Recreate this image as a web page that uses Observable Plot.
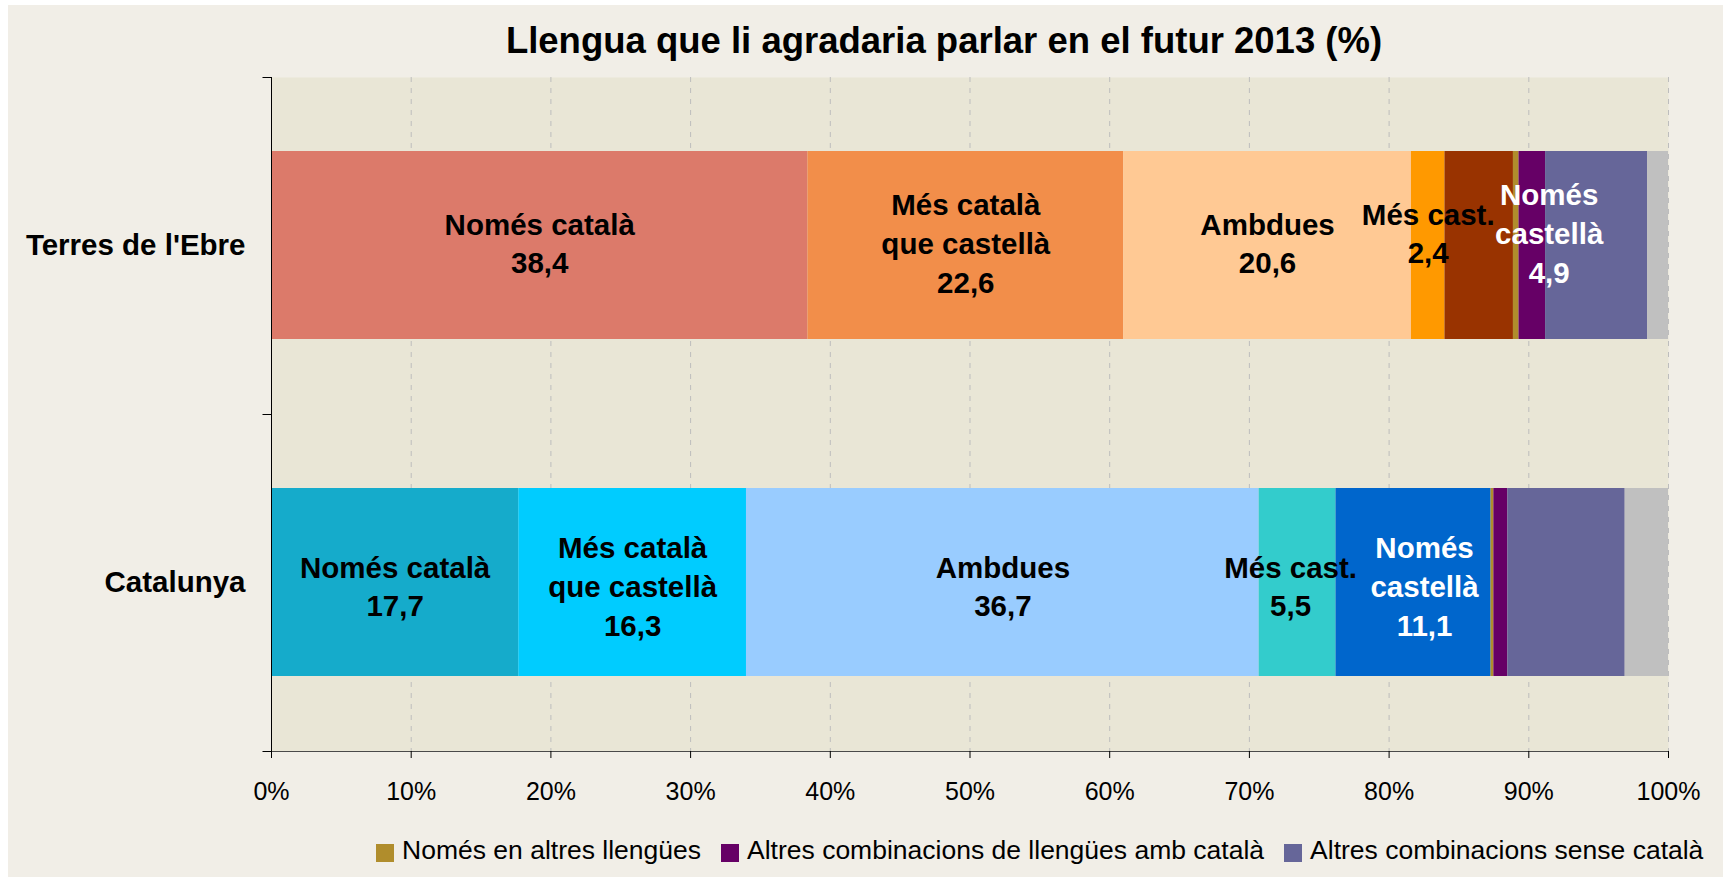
<!DOCTYPE html>
<html><head><meta charset="utf-8">
<script src="https://cdn.jsdelivr.net/npm/d3@7"></script>
<script src="https://cdn.jsdelivr.net/npm/@observablehq/plot@0.6"></script>
<style>
html,body{margin:0;padding:0;background:#fff;}
#chart{position:absolute;left:8px;top:5px;width:1715px;height:872px;background:#f1eee7;font-family:"Liberation Sans",Arial,sans-serif;color:#000;overflow:hidden;}
#plot{position:absolute;left:0;top:0;}
#title{position:absolute;top:18px;left:936px;transform:translateX(-50%);white-space:nowrap;font-size:36.5px;font-weight:bold;line-height:1;}
#legend{position:absolute;top:832px;left:368px;display:flex;align-items:flex-start;font-size:26.5px;line-height:1;white-space:nowrap;}
.item{display:flex;align-items:flex-start;margin-right:20px;}
.sw{width:18px;height:18px;margin-top:7px;margin-right:8px;}
</style></head>
<body><div id="chart"><div id="plot"></div><div id="title"></div><div id="legend"></div></div>
<script>
const title = "Llengua que li agradaria parlar en el futur 2013 (%)";
const regions = ["Terres de l'Ebre", "Catalunya"];
const categories = [
  "Només català", "Més català que castellà", "Ambdues", "Més castellà que català",
  "Només castellà", "Només en altres llengües", "Altres combinacions de llengües amb català",
  "Altres combinacions sense català", "NS/NC"
];
const terresValues = [38.4, 22.6, 20.6, 2.4, 4.9, 0.4, 1.9, 7.3, 1.5];
const catalunyaValues = [17.7, 16.3, 36.7, 5.5, 11.1, 0.2, 1.0, 8.4, 3.1];
const terresColors = ["#dc7a6a", "#f28e4a", "#ffc994", "#ff9900", "#993300", "#b08d2c", "#660066", "#666699", "#c0c0c0"];
const catalunyaColors = ["#15abcb", "#00ccff", "#99ccff", "#33cccc", "#0066cc", "#b08d2c", "#660066", "#666699", "#c0c0c0"];
const segmentLabels = ["Només català", "Més català\nque castellà", "Ambdues", "Més cast.", "Només\ncastellà", "", "", "", ""];
const labelColors = ["#000", "#000", "#000", "#000", "#fff", "#000", "#000", "#000", "#000"];
const xTicks = [0, 10, 20, 30, 40, 50, 60, 70, 80, 90, 100];
const legendLabels = ["Només en altres llengües", "Altres combinacions de llengües amb català", "Altres combinacions sense català"];
const legendColors = ["#b08d2c", "#660066", "#666699"];

const seriesValues = [terresValues, catalunyaValues];
const seriesColors = [terresColors, catalunyaColors];
const fmt = v => v.toFixed(1).replace(".", ",");

const rows = [];
regions.forEach((region, r) => {
  categories.forEach((category, i) => {
    const value = seriesValues[r][i];
    rows.push({
      region, category, value,
      color: seriesColors[r][i],
      label: segmentLabels[i] ? segmentLabels[i] + "\n" + fmt(value) : null,
      textColor: labelColors[i]
    });
  });
});

// label placement tweaks (styling only)
const regionShift = {"Terres de l'Ebre": -4, "Catalunya": 2};
const nudges = [
  {region: "Terres de l'Ebre", category: "Més castellà que català", dx: 0, dy: -10},
  {region: "Terres de l'Ebre", category: "Només castellà", dx: 70, dy: -10},
  {region: "Catalunya", category: "Més castellà que català", dx: -7, dy: 0},
  {region: "Catalunya", category: "Només castellà", dx: 11, dy: 0}
];
function offsetOf(d) {
  const n = nudges.find(n => n.region === d.region && n.category === d.category);
  return [n ? n.dx : 0, (n ? n.dy : 0) + regionShift[d.region]];
}
const offsetKeys = Array.from(new Set(rows.filter(d => d.label).map(d => offsetOf(d).join(","))));

const labelStyle = {fontSize: 29.5, fontWeight: "bold", lineHeight: 1.31, fill: "textColor"};

function axisLines(index, scales, values, dims) {
  const {width, height, marginTop, marginBottom, marginLeft, marginRight} = dims;
  const top = marginTop, bottom = height - marginBottom;
  const g = d3.create("svg:g");
  g.append("line").attr("x1", marginLeft).attr("x2", width - marginRight)
    .attr("y1", bottom + 0.5).attr("y2", bottom + 0.5).attr("stroke", "#4a4a4a");
  const x0 = Math.round(scales.x(0)) + 0.5;
  g.append("line").attr("x1", x0).attr("x2", x0).attr("y1", top).attr("y2", bottom + 1).attr("stroke", "#000");
  const n = regions.length;
  for (let k = 0; k <= n; k++) {
    const y = Math.round(top + k * (bottom - top) / n) + 0.5;
    g.append("line").attr("x1", x0 - 9).attr("x2", x0).attr("y1", y).attr("y2", y).attr("stroke", "#000");
  }
  return g.node();
}

const marks = [
  Plot.frame({fill: "#e9e6d6"}),
  Plot.ruleX(xTicks.filter(d => d > 0), {x: d => d, stroke: "#bdbdbd", strokeDasharray: "5,6"}),
  Plot.barX(rows, Plot.stackX({x: "value", y: "region", fill: "color", order: null})),
  axisLines,
  ...offsetKeys.map(k => {
    const [dx, dy] = k.split(",").map(Number);
    return Plot.text(rows, Plot.stackX({x: "value", y: "region", order: null,
      text: d => (d.label && offsetOf(d).join(",") === k) ? d.label : null,
      dx, dy, ...labelStyle}));
  }),
  Plot.text(regions, {y: d => d, text: d => d, frameAnchor: "left", textAnchor: "end", dx: -26,
    fontSize: 29.5, fontWeight: "bold", fill: "#000"}),
  Plot.axisX({ticks: xTicks, tickFormat: d => d + "%", tickSize: 7, tickPadding: 24, fontSize: 25, label: null})
];

const chart = Plot.plot({
  width: 1715,
  height: 820,
  marginTop: 72,
  marginBottom: 74,
  marginLeft: 263,
  marginRight: 55,
  style: {background: "transparent", fontFamily: "Liberation Sans, Arial, sans-serif", fontSize: "25px", color: "#000", overflow: "visible"},
  x: {domain: [0, 100], label: null},
  y: {domain: regions, paddingInner: 0.442, paddingOuter: 0.221, axis: null},
  color: {type: "identity"},
  marks
});
document.getElementById("plot").appendChild(chart);
document.getElementById("title").textContent = title;

const legend = document.getElementById("legend");
legendLabels.forEach((lab, i) => {
  const item = document.createElement("div");
  item.className = "item";
  const sw = document.createElement("div");
  sw.className = "sw";
  sw.style.background = legendColors[i];
  const t = document.createElement("span");
  t.textContent = lab;
  item.appendChild(sw); item.appendChild(t);
  legend.appendChild(item);
});
</script>
</body></html>
